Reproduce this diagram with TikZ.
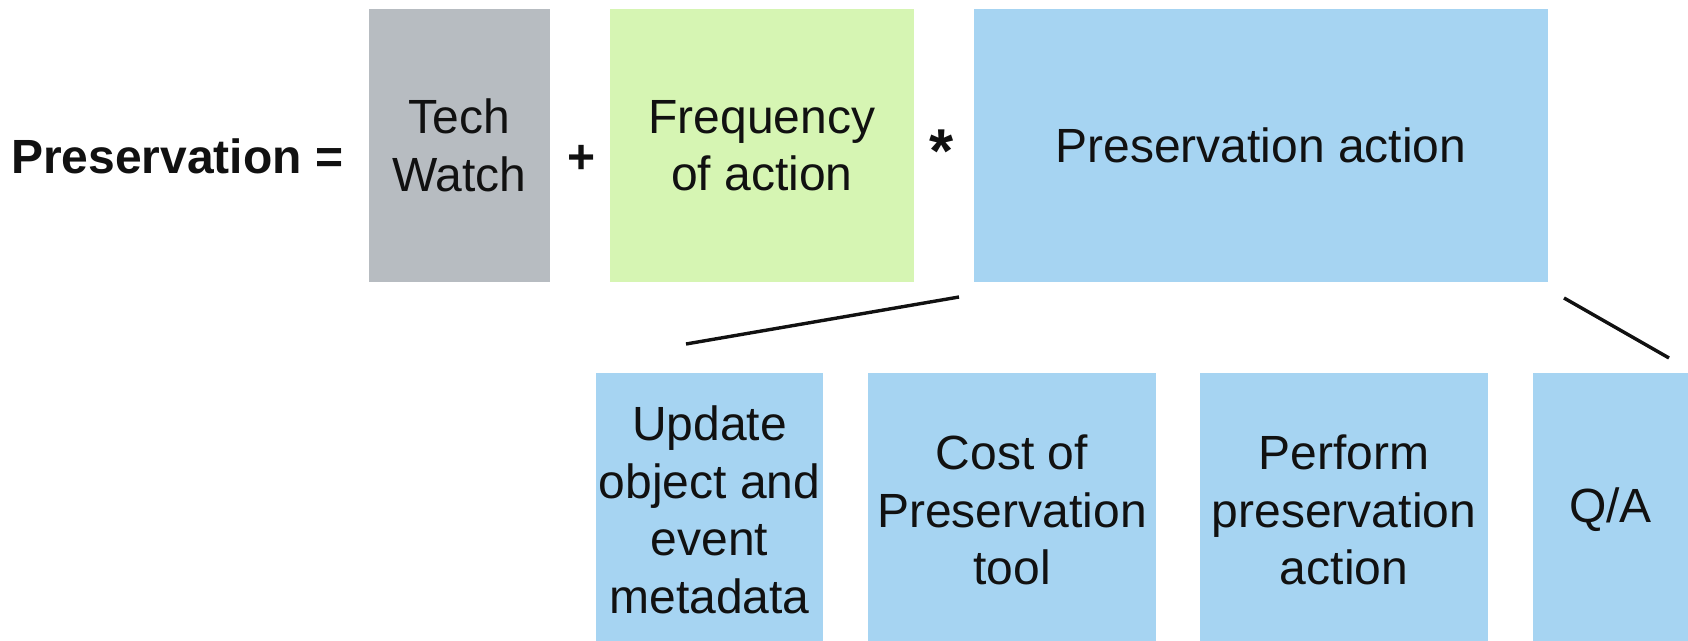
\documentclass[tikz,border=0pt]{standalone}
\usepackage{fontspec}
\setmainfont{Liberation Sans}
\usetikzlibrary{positioning}
\definecolor{watchgray}{HTML}{B7BCC1}
\definecolor{freqgreen}{HTML}{D6F5B3}
\definecolor{actblue}{HTML}{A6D4F2}
\definecolor{ink}{HTML}{111111}
\begin{document}
\begin{tikzpicture}[x=1pt,y=-1pt,
  every node/.style={inner sep=0pt,outer sep=0pt,text=ink,
    font=\fontsize{48}{57.5}\selectfont},
  box/.style={rectangle,align=center,minimum width=#1},
  topbox/.style={box=#1,minimum height=273},
  subbox/.style={box=#1,minimum height=274,fill=actblue},
  op/.style={font=\fontsize{48}{57.5}\selectfont\bfseries},
  branch/.style={draw=ink,line width=3.4pt}]
\useasboundingbox (0,0) rectangle (1688,640);

% equation label and operators
\node[op,anchor=base west] (lhs) at (11,173) {Preservation =};
\node[op,anchor=base] (plus) at (582,173) {+};
\node[op,font=\fontsize{62}{62}\selectfont\bfseries,anchor=base] (times) at (942,172) {*};

% top row of terms
\node[topbox=181,fill=watchgray] (watch) at (459.5,145.5) {Tech\\Watch};
\node[topbox=304,fill=freqgreen] (freq) at (762,145.5) {Frequency\\of action};
\node[topbox=574,fill=actblue] (act) at (1261,145.5) {Preservation action};

% components of the preservation action
\node[subbox=227] (upd) at (709.5,510) {Update\\object and\\event\\metadata};
\node[subbox=288] (cost) at (1012,510) {Cost of\\Preservation\\tool};
\node[subbox=288] (perf) at (1344,510) {Perform\\preservation\\action};
\node[subbox=155] (qa) at (1610.5,510) {Q/A};

% bracket lines spanning the components
\coordinate (lA) at (959,297);
\coordinate (lB) at (686,344);
\coordinate (rA) at (1564,298);
\coordinate (rB) at (1669,358);
\draw[branch] (lA) -- (lB);
\draw[branch] (rA) -- (rB);
\end{tikzpicture}
\end{document}
